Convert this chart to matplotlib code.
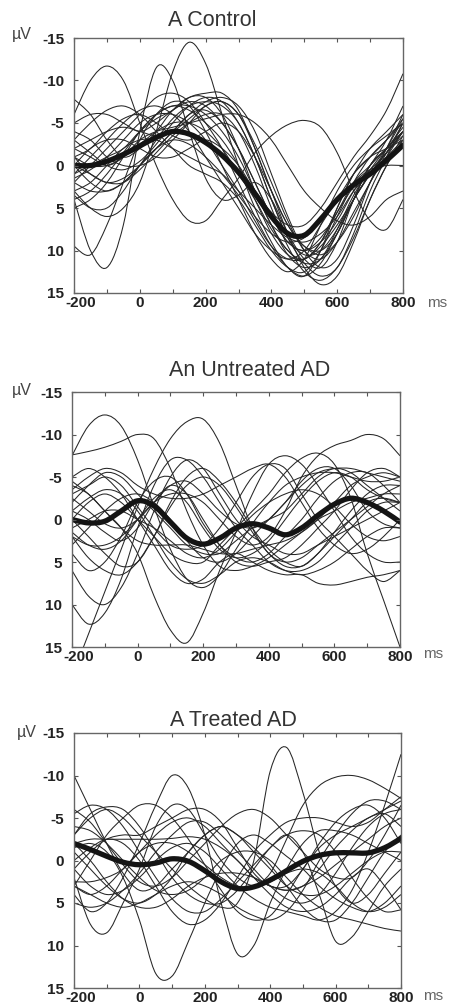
import numpy as np
import matplotlib.pyplot as plt
import matplotlib.transforms as mtransforms
from matplotlib.path import Path
from matplotlib.patches import PathPatch

plt.rcParams['font.family'] = ['Liberation Sans', 'DejaVu Sans']
plt.rcParams['axes.unicode_minus'] = False

# sample times (ms), one value every 50 ms
times = list(range(-200, 801, 50))

# --- A Control: single-trial waveforms (uV, negative up) ---
control_traces = [
    [3, 5, 6, 5, 2, -4, -11, -14.5, -12, -6, 0, 5, 9, 12, 13, 10, 5, 1, -1, -2, -3],
    [-6, -10, -11.7, -10, -5, 0, 4, 6.5, 6.5, 4, 1.5, -1.5, -3.5, -4.8, -5.3, -4.5, -1.5, 3, 6.5, 7.5, 4],
    [4, 10, 12, 7, -4, -11.5, -10, -4, 1.5, 4, 3.5, 2, 4, 8, 11, 12, 9, 4, 0, -2, -4],
    [9.5, 10.5, 7, 2, -3, -6, -7.5, -7, -4, 0, 4, 8, 11, 12.5, 11, 7, 3, 0, -2, -3.5, -5],
    [-7.8, -6, -3, -1, -2, -4, -6.5, -8, -8, -6, -2, 3, 7, 10, 11, 9, 5, 1, -2, -4, -6],
    [-3, -5, -6.5, -7, -6, -4, -2, 0, 1, 2, 4, 7, 10, 12, 12.5, 10, 6, 2, -1, -3, -5],
    [2, 0, -2, -4, -6, -8, -8.5, -7.5, -5, -2, 2, 6, 9.5, 12, 13, 11.5, 8, 4, 1, -1.5, -4],
    [0, 2, 3, 2, 0, -3, -5.5, -7, -7.5, -7, -5, -1, 4, 8.5, 11.5, 13, 12, 8, 3, -1, -5],
    [-2, -1, 0, -1, -3, -4, -4.5, -5, -5.5, -6, -6, -5, -3, 0, 3, 5, 6.5, 7, 6, 4, 3],
    [1, -1, -3, -5, -6.5, -7, -6, -4, -1, 2, 5, 8, 10, 11, 10, 7, 4, 1, -1, -3, -5.5],
    [-1, -2, -4, -5.5, -6, -5, -3.5, -3, -4, -5, -4, -1, 3, 7, 9.5, 10.5, 9, 6, 2, -1, -4],
    [3, 2, 0, -2, -3, -3, -2, -1, 0, 1, 3, 5, 7, 8.5, 9, 8, 6, 3, 1, -1, -3],
    [5, 4, 2, -1, -4, -6, -7, -6.5, -5, -3, 0, 4, 8, 10.5, 11, 9, 5.5, 2, 0, -2, -4],
    [-4, -3, -1, 0, 0, -1, -3, -5, -7, -7.5, -6, -2, 3, 8, 12, 14, 13, 9, 4, 0, -3],
    [0, 1, 2, 1.5, 0, -2, -4, -6, -7.5, -8, -7, -4, 1, 6, 10, 12, 11, 7, 2, -2, -6],
    [-5, -6, -6, -5, -4, -5, -6.5, -7.5, -7, -5, -2, 2, 6, 9, 10, 8.5, 5.5, 2.5, 0.5, -1.5, -4],
    [2, 3, 3, 2, 0, -2, -4, -6, -6.5, -5, -2, 2, 6, 9, 10, 9, 6.5, 3, 0, -3, -7],
    [-1, 0, 0, -1, -2.5, -4, -5, -5, -4, -2, 1, 4, 7.5, 10, 11.5, 11, 8, 4, 0, -2, -4],
    [1, 0, -1, -2, -4, -5.5, -6.5, -8, -8.5, -8.5, -6.5, -2, 3, 7, 9.5, 10, 8, 4, 1, -1.5, -3.5],
    [0, -2, -3, -3, -2, -1, -1, -2, -3, -2, 0, 3, 5.5, 7, 7, 5, 2, -1, -3.5, -6.5, -10.8],
    [3.5, 5, 5, 3, 0, -2, -3, -2.5, -1, 1, 3.5, 6, 8, 9, 8.5, 6.5, 4, 2, 0.5, 0, 0],
    [-2, -3, -4, -4.5, -4, -3.5, -4, -5.5, -7, -7.5, -6, -2.5, 2, 6.5, 10, 11, 9, 5.5, 2, -1.5, -5],
    [1.5, 0.5, -1, -3, -5, -6, -6, -5, -3, 0, 3, 6.5, 9.5, 11, 11, 9.5, 7, 4, 1, -2, -5.5],
    [-1, 1, 2, 2, 0.5, -1.5, -3.5, -5, -6, -6, -4, 0, 5, 9.5, 12.5, 13.5, 12, 8.5, 4, 0, -3.5],
    [4, 3, 1, -1.5, -4, -6, -7, -7, -6, -4, -1, 3, 7, 10.5, 12, 11, 7.5, 3.5, 0.5, -2, -4.5],
    [-3, -1.5, 0, 0.5, -0.5, -2.5, -5, -7, -8, -7.5, -5, -1, 4, 8.5, 10.5, 10, 7.5, 4, 1, -1, -2.5],
]
control_mean = [0, 0, -0.5, -1.3, -2.3, -3.3, -4.0, -3.7, -2.7, -1.2, 0.8,
                3.3, 6.0, 8.0, 8.2, 6.3, 4.0, 2.3, 1.0, -0.6, -2.4]

# --- An Untreated AD ---
untreated_traces = [
    [-7.5, -11, -12.3, -11, -7, -1.5, 3.5, 7, 8, 6.5, 3.5, 0.5, -2, -4, -5, -5.5, -5.5, -5, -4.5, -4.5, -5],
    [18.5, 13.5, 8.5, 3.5, -1.5, -6, -9.5, -11.5, -11.8, -9, -4, 1, 4, 5, 4.5, 3, 1.5, 0, -1.5, -3, -4],
    [-4, -3, -1, 1, 4, 9, 13, 14.5, 11, 6, 1.5, -3, -6.5, -7.5, -6.5, -4, -1, 2, 4, 5, 5],
    [-7.6, -8, -8.5, -9.2, -10, -9.5, -6, -1, 3, 5.5, 6, 5.5, 4.5, 3, 1.5, 0, -1, -2, -2.5, -3, -3],
    [10, 12.3, 11, 7, 1, -4, -7, -7, -5, -2, 1, 3, 5, 6, 6, 5, 3, 1, -1, -2, -2],
    [6, 9, 10, 8, 4, -1, -5, -7, -6, -3, 0, 2, 3, 4, 4, 3, 2, 1, 0, -1, -2],
    [2, 3, 3, 2, 0, -2, -3, -3, -2, 0, 2, 3, 2, -1, -5, -7.5, -8.7, -9.3, -10, -9.5, -7.5],
    [0, -2, -3, -2, 0, 2, 4, 5, 5, 3, 1, -1, -3, -5.5, -7.2, -7.8, -6.5, -2.5, 4, 9.5, 15],
    [-5, -6, -5, -3, 0, 3, 6, 7.5, 7, 5, 4, 5, 6, 6.5, 6.5, 7.5, 7.7, 7.3, 6.8, 6.5, 6],
    [-3, -4, -5, -4, -1.5, 1, 3, 3.5, 3, 1, -2, -5, -6.5, -6, -3, 0, 2, 4, 6, 7.3, 6],
    [-2, -4, -5.5, -5, -3, -1, 1, 3, 4, 4, 2.5, 1, 0, -1, -3, -5, -6, -5.5, -4, -2.5, -1],
    [3, 1, -1, -2.5, -3, -2, 0, 2.5, 4.5, 5, 4, 2, 0, -2, -4.5, -6, -6, -4, -1, 0.5, 1],
    [0, 2, 4, 5.5, 5, 2, -2, -5, -6, -4.5, -2, 1, 3.5, 5, 5.5, 4, 1.5, -1, -3, -4, -4],
    [-4.5, -3, -1, 1, 2.5, 3, 3, 3, 3.5, 4, 4, 3.5, 3, 2.5, 1.5, 0, -2, -4, -5, -5.5, -5],
    [-1, 0, 1.5, 2.5, 1, -2, -4, -3, 0, 3, 5, 5.5, 5, 4.5, 3, 1, -1, -3.5, -5.5, -6, -5],
    [-3.5, -5, -6, -5.5, -4, -3, -2.5, -2.5, -3, -4, -5, -6, -6.5, -5, -2, 1, 3, 4, 3.5, 2, 0],
    [2, 4.5, 6, 6.5, 5, 2, -1.5, -4, -5, -4, -1.5, 1.5, 4, 5.5, 5.5, 4, 2, 0, -2, -2.5, -2],
    [4, 6, 5, 2, -2, -4.5, -5, -3, 0.5, 3, 4.5, 5, 4, 2, 0, -2.5, -4.5, -5.5, -5.5, -4, -2],
    [-1, -2.5, -3.5, -3, -1, 2, 5, 7, 7.5, 6.5, 5, 4.5, 5, 6, 6.5, 6, 5, 3.5, 2, 1, 1],
    [1, 0, -1, -1, 0, 1, 2.5, 4, 4.5, 3.5, 1.5, -0.5, -2, -3, -3.5, -3, -1.5, 0.5, 2, 2.5, 2],
    [-2.5, -1, 0.5, 1, 0, -2, -4, -4.5, -3, -1, 0.5, 1, 0, -2, -4, -5.5, -6, -6, -5.5, -5, -4.5],
    [1.5, 3, 3.5, 2.5, 0, -2.5, -3.5, -2, 1, 3.5, 4.5, 4, 2.5, 0, -2.5, -4.5, -5.5, -5, -3.5, -2.5, -2],
]
untreated_mean = [0, 0.4, 0.2, -1, -2.2, -1.6, 0.3, 2.2, 2.9, 2.2, 1.0,
                  0.5, 1.0, 1.8, 1.0, -0.5, -1.8, -2.5, -2.0, -1.0, 0.3]

# --- A Treated AD ---
treated_traces = [
    [-3, -5, -6, -5, -3, -1, 1, 3, 4.5, 5.5, 5, 0, -10.5, -13.3, -8, -1, 3, 5, 4, 1.5, -1],
    [1, 3, 4, 3.5, 2, 0, -1.5, -2, -1, 1, 3, 4.5, 5.5, 6, 6.5, 7, 6, 3.5, -1, -6.5, -12.5],
    [3, 4, 3, 1, -1, -2, -2, -1, 0.5, 2, 3, 3, 1.5, -2.5, -6.5, -8.8, -9.8, -10, -9.5, -8.5, -7.3],
    [4, 6, 5, 2, -2, -6.5, -10, -8.5, -3, 5, 11, 10, 5, 1, -2, -3.5, -3.5, -3, -2, -1, 0],
    [-1.5, -2, -1, 2, 7, 13.3, 13.6, 9.5, 5, 1, -2, -3, -2, -0.5, 1, 3, 4.5, 5.5, 6, 5, 3],
    [2, 7.5, 8.5, 5, 1, -4, -6.5, -6, -3, 0, 2, 3, 2.5, 1.5, 1, 1.5, 3, 5, 6, 5.5, 4],
    [-10, -6, -2, 1.5, 3.5, 3, 1, -1, -3, -4, -3, -1, 1, 3, 4, 4, 3, 1.5, 0, -1, -1],
    [-3, -5.5, -6.3, -6, -4, -1, 2, 4, 5, 5, 3.5, 1, -1.5, -3, -3.5, -3, -1, 2, 4.5, 6, 5.8],
    [-5.5, -6.5, -6, -4, -1, 2, 4.5, 6, 6, 4.5, 2.5, 0.5, -1.5, -3, -1, 4, 9.5, 9, 6, 3, 1],
    [-1, 1, 3, 4.5, 5, 4, 2, -1, -3, -4, -3, -1.5, 0.5, 3, 5.5, 7, 7, 5, 2, -1, -3],
    [2.5, 2.5, 2, 1, -1, -3, -4.5, -5, -4, -2, 0, 2, 4, 5.5, 6, 5.5, 4, 2, 1, 3, 5.8],
    [-4, -3.5, -2, 0, 2, 3.5, 4, 3.5, 2, 0, -1, -1, 0, 2, 4, 5.5, 6.5, 7, 7.5, 8, 8.3],
    [0, -1.5, -2.5, -2, 0, 3, 6, 7.5, 7, 5, 2, -1, -3, -4.5, -5, -5, -4.5, -4, -4.5, -6, -7.5],
    [-6, -4.5, -2, 0.5, 2.5, 3, 2, 0, -2, -4, -5.5, -6, -5, -3, -1, 1, 2, 2, 0, -3, -6.5],
    [-2, -2.5, -2.5, -2.5, -2.5, -2.5, -2.6, -2.8, -2.5, -1.5, 0, 2, 3, 3.5, 3, 2, 0.5, -1, -2.5, -4, -5],
    [3, 0, -3, -5, -6.5, -6.5, -5, -2.5, 0.5, 3.5, 6, 7, 6.5, 4, 1, -1.5, -3, -4, -5, -6, -7],
    [5, 5.5, 5, 3.5, 1.5, -1, -3, -4.5, -4.5, -3, -1, 1, 3, 4.5, 5, 4, 1.5, -1.5, -4, -5.5, -6],
    [1, -1, -2.5, -3, -3, -4, -5, -6, -6, -4.5, -1.5, 1.5, 3, 3, 1, -2, -4.5, -6, -6.5, -5, -2],
    [-2, 0, 2.5, 4.5, 5.5, 5.5, 4.5, 3, 2, 1.5, 1.5, 2, 3, 3.5, 3, 1, -1.5, -3.5, -5, -5.5, -4],
    [3, 4, 5, 5.5, 5, 4, 3, 2.5, 3, 4, 5.5, 6.5, 7, 6, 3.5, 0, -3, -5.5, -7, -7, -6],
]
treated_mean = [-2.0, -1.3, -0.5, 0.2, 0.5, 0.3, -0.2, 0.1, 1.2, 2.5, 3.3,
                3.1, 2.3, 1.2, 0.1, -0.6, -0.9, -0.9, -0.9, -1.5, -2.6]

y_ticks = [-15, -10, -5, 0, 5, 10, 15]
x_ticks = [-200, 0, 200, 400, 600, 800]

W, H = 449, 1006


def smooth_path(x, y):
    # Catmull-Rom style cubic Bezier through the sampled points
    pts = np.column_stack([x, y]).astype(float)
    ext = np.vstack([pts[0], pts, pts[-1]])
    verts = [pts[0]]
    codes = [Path.MOVETO]
    for i in range(len(pts) - 1):
        p0, p1, p2, p3 = ext[i], ext[i + 1], ext[i + 2], ext[i + 3]
        verts += [p1 + (p2 - p0) / 6, p2 - (p3 - p1) / 6, p2]
        codes += [Path.CURVE4] * 3
    return Path(verts, codes)


def px_rect(left, top, right, bottom):
    return [left / W, 1 - bottom / H, (right - left) / W, (bottom - top) / H]


def draw_panel(rect, traces, mean, title, title_xy, uv_xy, ms_xy):
    ax = fig.add_axes(px_rect(*rect))
    for tr in traces:
        ax.add_patch(PathPatch(smooth_path(times, tr), fill=False,
                               lw=0.75, ec='#262626'))
    ax.add_patch(PathPatch(smooth_path(times, mean), fill=False,
                           lw=3.8, ec='#141414', capstyle='round'))
    ax.set_xlim(-200, 800)
    ax.set_ylim(15, -15)
    ax.set_xticks(x_ticks)
    ax.set_xticklabels([str(t) for t in x_ticks])
    ax.set_xticks(range(-100, 800, 200), minor=True)
    ax.set_yticks(y_ticks)
    ax.set_yticklabels([str(t) for t in y_ticks])
    ax.tick_params(which='both', direction='in', top=True, right=True,
                   length=3, width=0.8, color='#555')
    ax.tick_params(axis='y', labelsize=11, pad=7)
    ax.tick_params(axis='x', labelsize=11, pad=2)
    for lab in ax.get_xticklabels() + ax.get_yticklabels():
        lab.set_fontweight('bold')
        lab.set_color('#222')
    # nudge the first time label so it clears the bottom voltage label
    first = ax.get_xticklabels()[0]
    first.set_transform(first.get_transform() +
                        mtransforms.ScaledTranslation(7 / 100, 0, fig.dpi_scale_trans))
    for sp in ax.spines.values():
        sp.set_color('#666')
        sp.set_linewidth(1.0)

    fig.text(title_xy[0] / W, 1 - title_xy[1] / H, title, ha='center',
             va='center', fontsize=15.5, color='#333')
    fig.text(uv_xy[0] / W, 1 - uv_xy[1] / H, 'µV', ha='center',
             va='center', fontsize=11.5, color='#444')
    fig.text(ms_xy[0] / W, 1 - ms_xy[1] / H, 'ms', ha='center',
             va='center', fontsize=11, color='#666')
    return ax


fig = plt.figure(figsize=(W / 100, H / 100), dpi=100)

draw_panel((74, 38, 403, 293), control_traces, control_mean,
           'A Control', (212, 21), (22, 34), (437, 303))
draw_panel((72, 392, 400, 647), untreated_traces, untreated_mean,
           'An Untreated AD', (250, 371), (22, 391), (433, 654))
draw_panel((74, 733, 401, 988), treated_traces, treated_mean,
           'A Treated AD', (233, 720), (27, 732), (433, 996))

fig.savefig('out.png', dpi=100)
